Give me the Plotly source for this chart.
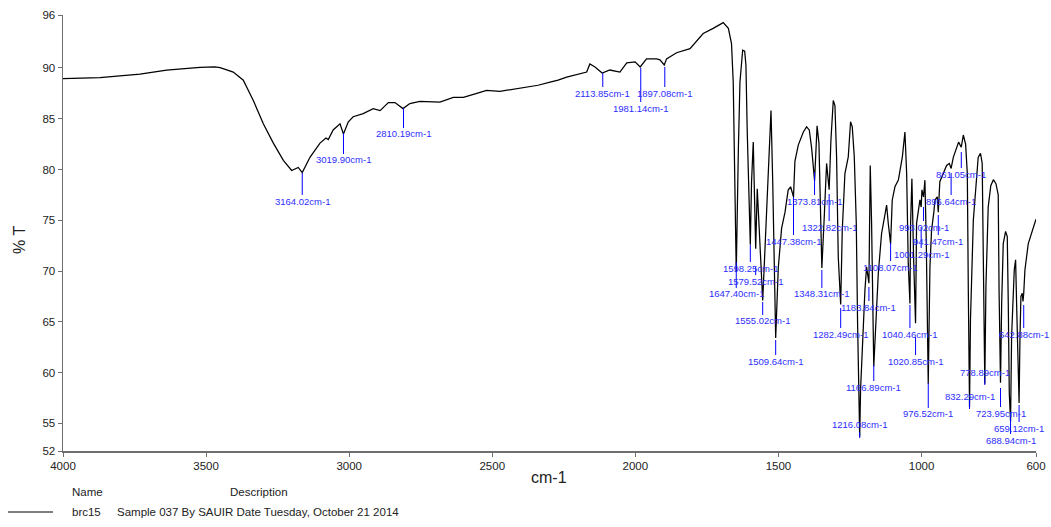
import plotly.graph_objects as go

# ---------------- data ----------------
wavenumber = [
    4000, 3871, 3731, 3638, 3521, 3470, 3451, 3405, 3370, 3335, 3300, 3265, 3230, 3201, 3178, 3164,
    3137, 3102, 3081, 3073, 3056, 3032, 3020, 3003, 2986, 2951, 2916, 2892, 2863, 2840, 2812, 2788,
    2753, 2683, 2636, 2601, 2554, 2520, 2473, 2400, 2340, 2298, 2270, 2240, 2210, 2182, 2170, 2159,
    2141, 2116, 2089, 2054, 2030, 2001, 1983, 1961, 1926, 1914, 1899, 1891, 1856, 1809, 1774, 1763,
    1728, 1693, 1675, 1664, 1658, 1653, 1647.4, 1640, 1634.5, 1625, 1618, 1613.6, 1609, 1598.25, 1594,
    1588, 1584.5, 1579.5, 1574, 1567, 1555, 1547, 1535.5, 1526, 1520, 1509.6, 1500.6, 1489, 1477, 1466,
    1457.5, 1447.4, 1442.4, 1430.7, 1413, 1401.6, 1392.3, 1384, 1373.8, 1365, 1358.5, 1354, 1348.3,
    1340, 1331.7, 1322.8, 1316.6, 1308.4, 1302.6, 1296.8, 1291, 1282.5, 1277, 1267.7, 1256, 1248, 1242,
    1235, 1228, 1223.4, 1216.1, 1213, 1203.6, 1197.8, 1192, 1183.8, 1179.2, 1174.5, 1166.9, 1160.5,
    1151, 1139.6, 1128, 1122, 1116.3, 1108.1, 1102.3, 1093, 1081, 1067, 1058, 1052, 1046.4, 1040.5,
    1038.2, 1033.6, 1027.8, 1020.9, 1017.3, 1011.4, 1005.6, 1001.3, 998.5, 993.0, 988.2, 983.5, 976.5,
    970.6, 965, 957, 953, 945, 941.5, 936, 920.6, 912.4, 903, 896.6, 889, 877.5, 870.5, 861.1, 854,
    846, 840, 836.5, 832.3, 829, 819, 802, 794, 788, 784, 778.9, 775, 767, 758, 749, 740, 732, 729,
    724.0, 720, 714.4, 706.3, 700.4, 696.9, 693.4, 688.9, 685.3, 676, 671.3, 667.8, 659.1, 656, 652.7,
    648, 645.5, 642.9, 638.7, 627, 615.4, 606, 600,
]
transmittance = [
    88.96, 89.05, 89.4, 89.8, 90.05, 90.1, 90.04, 89.6, 88.8, 86.8, 84.5, 82.6, 80.9, 79.9, 80.2, 79.7,
    81.2, 82.6, 83.1, 82.95, 83.9, 84.5, 83.5, 84.7, 85.2, 85.5, 86.0, 85.8, 86.6, 86.6, 86.0, 86.5,
    86.7, 86.65, 87.1, 87.1, 87.5, 87.8, 87.7, 88.0, 88.3, 88.6, 88.8, 89.1, 89.3, 89.5, 89.6, 90.4,
    90.1, 89.5, 89.8, 89.6, 90.5, 90.6, 90.1, 90.9, 90.9, 90.8, 90.3, 90.9, 91.5, 91.9, 93.06, 93.4,
    93.9, 94.47, 93.9, 92.4, 88.6, 80.4, 69.9, 82.1, 88.6, 91.75, 91.65, 90.3, 83.7, 72.6, 78.8,
    82.7, 78.8, 72.2, 78.1, 73.9, 67.1, 72.2, 80.4, 85.8, 78.8, 63.4, 70.3, 74.2, 75.8, 77.97,
    78.3, 77.3, 80.8, 82.4, 83.7, 84.2, 83.9, 82.1, 78.9, 84.3, 82.6, 76.3, 70.3,
    75.3, 80.6, 78.0, 82.9, 86.8, 86.3, 81.25, 71.4, 66.7, 74.0, 79.6, 81.25, 84.7, 84.2,
    81.25, 74.7, 64.8, 53.7, 58.3, 64.8, 68.1, 70.4, 68.8, 80.4, 74.7, 60.6, 64.85,
    69.8, 73.7, 75.7, 76.5, 74.7, 72.7, 77.0, 78.3, 78.95, 81.25, 83.7, 79.6, 70.75, 66.8,
    74.7, 79.1, 71.4, 64.85, 74.7, 76.0, 77.0, 76.3, 78.0, 77.3, 78.95, 73.05, 58.9,
    70.4, 74.0, 75.8, 77.0, 77.3, 75.8, 78.8, 79.9, 80.4, 80.6, 80.1, 81.2, 82.2, 82.7, 82.2, 83.4,
    82.5, 79.6, 68.0, 56.6, 65.2, 75.0, 81.2, 81.6, 80.6, 71.7, 58.9, 68.45, 76.3, 78.4, 79.0, 78.6, 77.5, 68.0,
    59.0, 66.8, 72.7, 73.9, 73.4, 66.8, 58.0, 55.2, 63.5, 70.1, 71.1, 66.8, 57.0, 63.5, 67.5,
    67.8, 67.0, 67.8, 70.1, 72.7, 73.7, 74.7, 75.1,
]

peak_labels = [
    3164.02, 3019.90, 2810.19, 2113.85, 1981.14, 1897.08, 1373.81, 896.64, 861.05, 1322.82,
    1447.38, 993.02, 941.47, 1001.29, 1598.25, 1108.07, 1579.52, 1647.40, 1348.31, 1183.84,
    1555.02, 1282.49, 1040.46, 642.88, 1509.64, 1020.85, 778.89, 1166.89, 832.29, 976.52,
    723.95, 1216.08, 659.12, 688.94,
]

x_ticks = [4000, 3500, 3000, 2500, 2000, 1500, 1000, 600]
y_tick_text = ["52", "55", "60", "65", "70", "75", "80", "85", "90", "96"]

# ---------------- layout (pixel geometry of the reference) ----------------
W, H = 1051, 527
L, R, T, B = 63, 1036, 15, 451          # plot area edges in px
Y_BOT, Y_TOP = 52.27, 95.22              # axis range (end ticks labelled 52 / 96)
y_tick_vals = [Y_BOT, 55, 60, 65, 70, 75, 80, 85, 90, Y_TOP]

# label text centre y, marker top y, marker bottom y  (px)
label_pos = [
    (201, 173, 195), (160, 133, 154), (133, 108, 128), (93, 73, 87), (108, 68, 102), (93, 67, 87),
    (201, 172, 195), (201, 173, 195), (174, 152, 168), (227, 194, 221), (241, 197, 235),
    (227, 207, 221), (241, 215, 235), (254, 227, 248), (268, 245, 262), (267, 243, 261),
    (281, 267, 275), (293, 262, 288), (293, 270, 288), (307, 287, 301), (320, 302, 315),
    (334, 308, 328), (334, 305, 328), (334, 305, 328), (361, 340, 355), (361, 337, 355),
    (372, 377, 385), (387, 365, 381), (396, 400, 409), (413, 383, 408), (413, 388, 407),
    (424, 432, 438), (428, 405, 422), (440, 413, 434),
]


def py2paper(py):
    return (B - py) / (B - T)


def px2paper(px):
    return (px - L) / (R - L)


BLUE_TXT = "rgb(45,45,255)"
BLUE_LINE = "rgb(0,0,255)"
AXIS_COL = "#6e6e6e"
FONT = "Liberation Sans, Arial, sans-serif"

fig = go.Figure()
fig.add_trace(go.Scatter(
    x=wavenumber, y=transmittance, mode="lines",
    line=dict(color="black", width=1.25), hoverinfo="skip", showlegend=False,
))

shapes = []
annotations = []
for val, (ty, y1, y2) in zip(peak_labels, label_pos):
    shapes.append(dict(type="line", xref="x", yref="paper", x0=val, x1=val,
                       y0=py2paper(y1), y1=py2paper(y2),
                       line=dict(color=BLUE_LINE, width=1)))
    annotations.append(dict(xref="x", yref="paper", x=val, y=py2paper(ty),
                            text=f"{val:.2f}cm-1", showarrow=False,
                            xanchor="center", yanchor="middle",
                            font=dict(family=FONT, size=9.5, color=BLUE_TXT)))

# axis titles
annotations.append(dict(xref="paper", yref="paper", x=px2paper(549), y=py2paper(478),
                        text="cm-1", showarrow=False, xanchor="center", yanchor="middle",
                        font=dict(family=FONT, size=16, color="#222")))
annotations.append(dict(xref="paper", yref="paper", x=px2paper(20), y=py2paper(240),
                        text="% T", showarrow=False, textangle=-90,
                        xanchor="center", yanchor="middle",
                        font=dict(family=FONT, size=16, color="#222")))

# legend block
leg_font = dict(family=FONT, size=11.5, color="#222")
annotations += [
    dict(xref="paper", yref="paper", x=px2paper(70), y=py2paper(492), text="Name",
         showarrow=False, xanchor="left", yanchor="middle", font=leg_font),
    dict(xref="paper", yref="paper", x=px2paper(259), y=py2paper(492), text="Description",
         showarrow=False, xanchor="center", yanchor="middle", font=leg_font),
    dict(xref="paper", yref="paper", x=px2paper(70), y=py2paper(512), text="brc15",
         showarrow=False, xanchor="left", yanchor="middle", font=leg_font),
    dict(xref="paper", yref="paper", x=px2paper(115), y=py2paper(512),
         text="Sample 037 By SAUIR Date Tuesday, October 21 2014",
         showarrow=False, xanchor="left", yanchor="middle", font=leg_font),
]
shapes.append(dict(type="line", xref="paper", yref="paper",
                   x0=px2paper(8), x1=px2paper(53), y0=py2paper(512), y1=py2paper(512),
                   line=dict(color="black", width=1)))

axis_common = dict(
    showline=True, linecolor=AXIS_COL, linewidth=1.5, mirror=False,
    ticks="outside", ticklen=4, tickcolor=AXIS_COL, tickwidth=1,
    showgrid=False, zeroline=False, automargin=False,
    tickfont=dict(family=FONT, size=11.5, color="#222"),
)

fig.update_layout(
    template="none",
    width=W, height=H, autosize=False,
    margin=dict(l=L, r=W - R, t=T, b=H - B, pad=0, autoexpand=False),
    paper_bgcolor="white", plot_bgcolor="white",
    shapes=shapes, annotations=annotations, showlegend=False,
    xaxis=dict(range=[4000, 600], tickvals=x_ticks, ticktext=[str(t) for t in x_ticks],
               **axis_common),
    yaxis=dict(range=[Y_BOT, Y_TOP], tickvals=y_tick_vals, ticktext=y_tick_text,
               **axis_common),
)

fig.write_html(
    "out.html",
    config={"displayModeBar": False, "staticPlot": True},
    post_script="document.body.style.margin='0';document.body.style.padding='0';"
                "document.documentElement.style.overflow='hidden';",
)
